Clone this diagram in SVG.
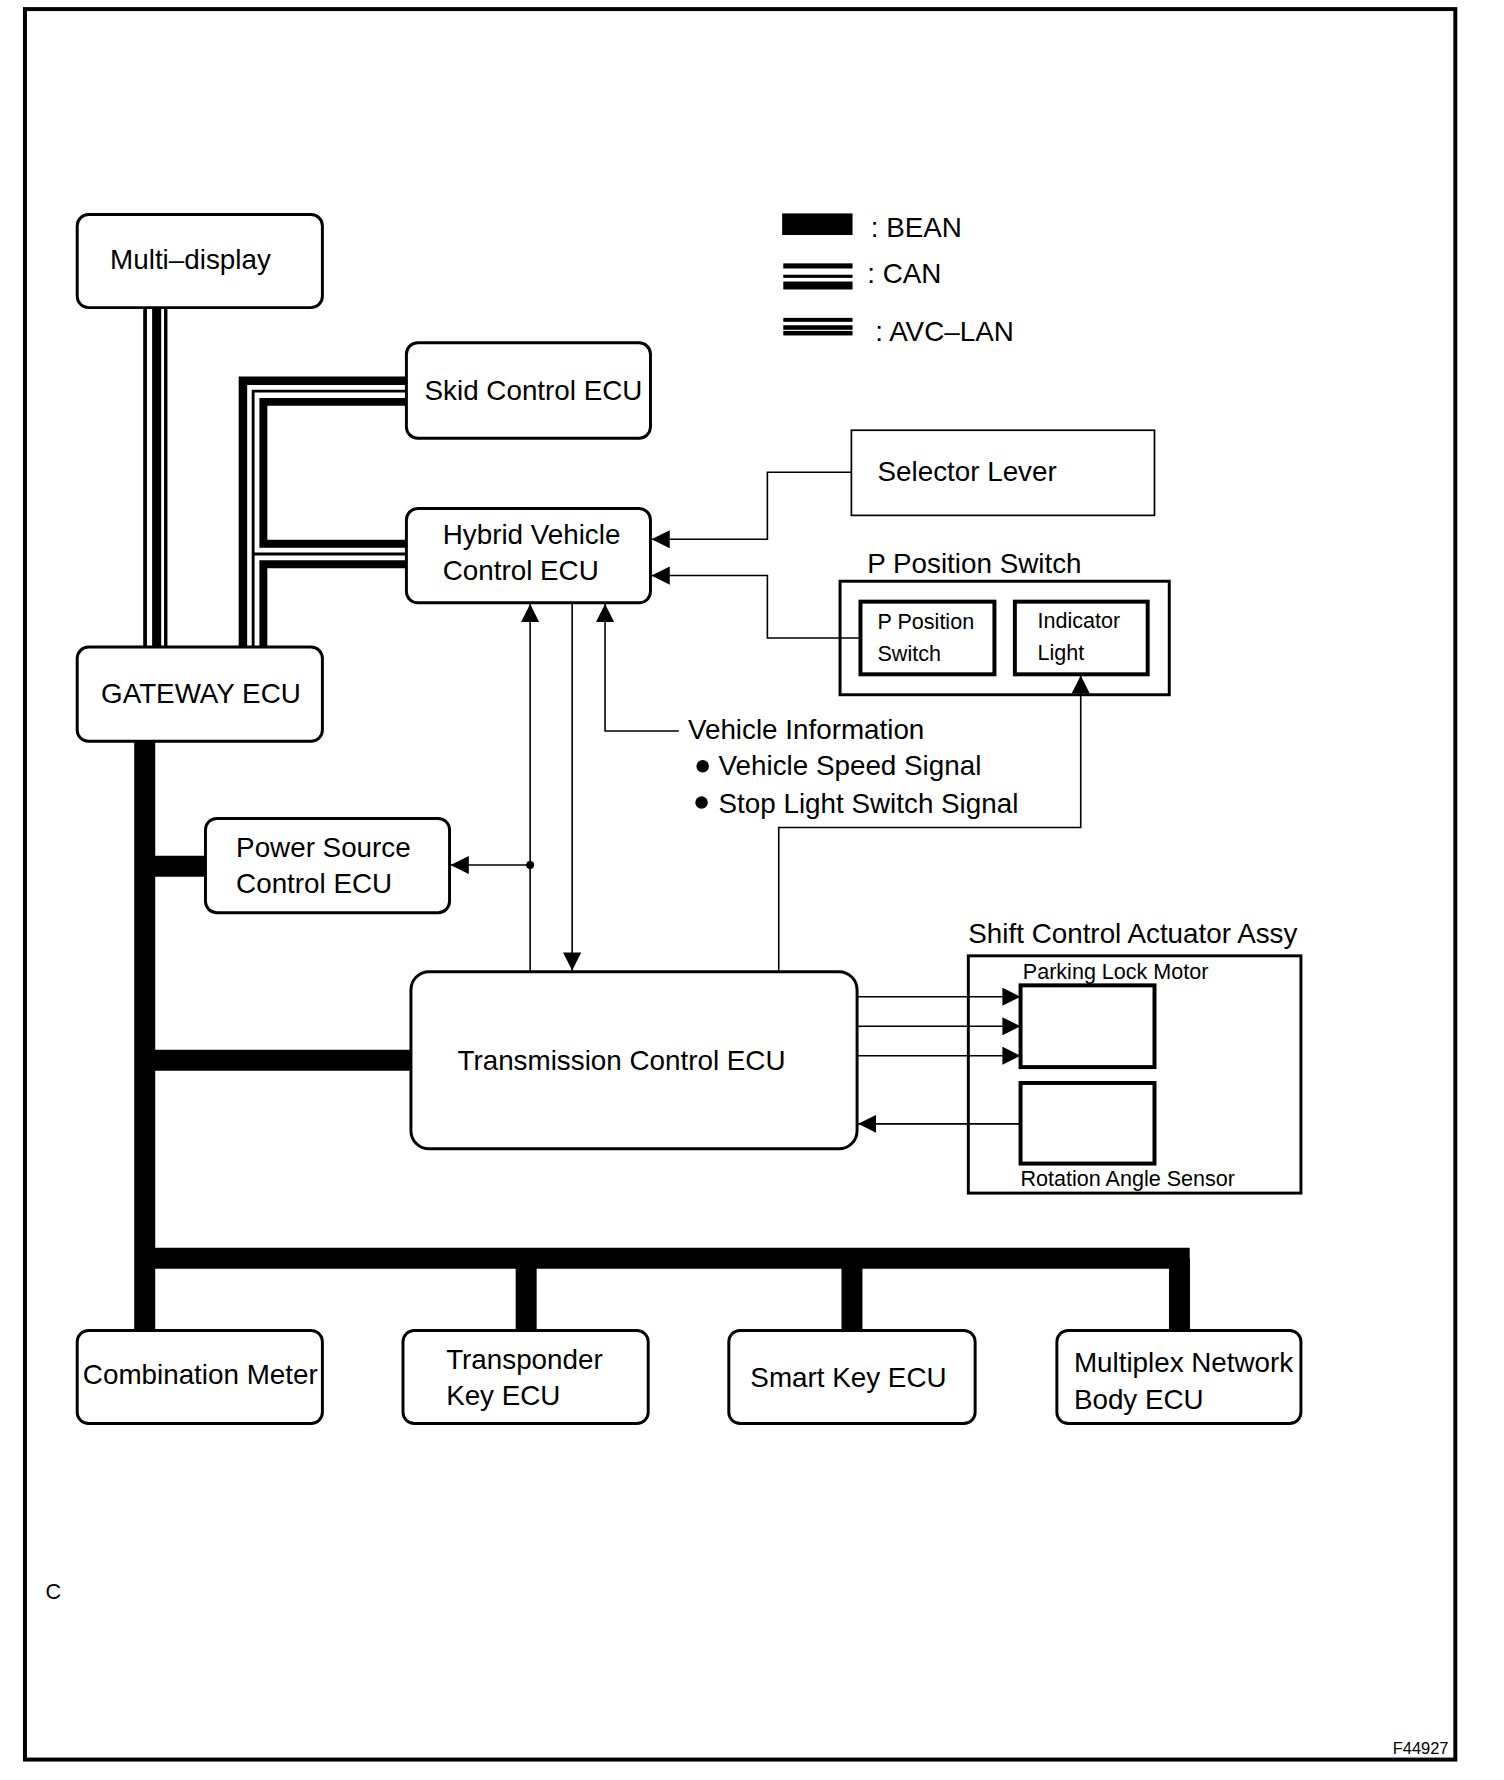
<svg xmlns="http://www.w3.org/2000/svg" width="1504" height="1780" viewBox="0 0 1504 1780">
<defs>
<style>
text{font-family:"Liberation Sans",Arial,sans-serif;fill:#000}
.t{font-size:24.5px}
.s{font-size:19px}
.rb{fill:#fff;stroke:#000;stroke-width:2.6}
.bx{fill:none;stroke:#000;stroke-width:2.6}
.ib{fill:#fff;stroke:#000;stroke-width:3.5}
.bean{fill:none;stroke:#000;stroke-width:18.5;stroke-linejoin:miter;stroke-linecap:butt}
.sig{fill:none;stroke:#000;stroke-width:1.4}
</style>
<marker id="ah" viewBox="0 0 16 16" refX="16" refY="8" markerWidth="16" markerHeight="16" markerUnits="userSpaceOnUse" orient="auto">
<path d="M0,0 L16,8 L0,16 Z" fill="#000"/>
</marker>
</defs>
<rect x="0" y="0" width="1504" height="1780" fill="#fff"/>
<g transform="scale(1.1352)">
<rect x="22" y="8" width="1260" height="1542" fill="none" stroke="#000" stroke-width="3.5"/>

<g id="legend">
<rect x="689" y="188" width="62" height="19" fill="#000"/>
<text class="t" x="767" y="209">: BEAN</text>
<rect x="690" y="232" width="61" height="4.5" fill="#000"/>
<rect x="690" y="242" width="61" height="2.8" fill="#000"/>
<rect x="690" y="248" width="61" height="7" fill="#000"/>
<text class="t" x="764" y="249">: CAN</text>
<rect x="690" y="280" width="61" height="3.5" fill="#000"/>
<rect x="690" y="286.5" width="61" height="4" fill="#000"/>
<rect x="690" y="291.5" width="61" height="4" fill="#000"/>
<text class="t" x="771" y="300">: AVC–LAN</text>
</g>

<g id="connectors">
<line x1="127.8" y1="271" x2="127.8" y2="570" stroke="#000" stroke-width="3.3"/>
<line x1="138" y1="271" x2="138" y2="570" stroke="#000" stroke-width="8"/>
<line x1="146" y1="271" x2="146" y2="570" stroke="#000" stroke-width="3"/>
<path d="M214,570 V335.5 H358" fill="none" stroke="#000" stroke-width="7.5"/>
<path d="M223,570 V344.5 H358 M223,488 H358" fill="none" stroke="#000" stroke-width="2.5"/>
<path d="M358,354 H232 V479 H358" fill="none" stroke="#000" stroke-width="7"/>
<path d="M358,497 H232 V570" fill="none" stroke="#000" stroke-width="7"/>
<path class="bean" d="M127.5,653 V1172"/>
<path class="bean" d="M127.5,763 H181"/>
<path class="bean" d="M127.5,934 H362"/>
<path class="bean" d="M127.5,1108.5 H1048"/>
<path class="bean" d="M463.5,1108.5 V1172"/>
<path class="bean" d="M750.5,1108.5 V1172"/>
<path class="bean" d="M1039,1108.5 V1172"/>
<path class="sig" d="M750,416 H676 V475 H574" marker-end="url(#ah)"/>
<path class="sig" d="M758,562 H676 V507 H574" marker-end="url(#ah)"/>
<path class="sig" d="M467,856 V532" marker-end="url(#ah)"/>
<path class="sig" d="M504,531 V855" stroke-width="1.8" marker-end="url(#ah)"/>
<path class="sig" d="M467,762 H397" marker-end="url(#ah)"/>
<circle cx="467" cy="762" r="3.5" fill="#000"/>
<path class="sig" d="M598,644 H533 V532" marker-end="url(#ah)"/>
<path class="sig" d="M686,856 V729 H952 V595" marker-end="url(#ah)"/>
<path class="sig" d="M755,878 H899" marker-end="url(#ah)"/>
<path class="sig" d="M755,904 H899" marker-end="url(#ah)"/>
<path class="sig" d="M755,930 H899" stroke-width="1.8" marker-end="url(#ah)"/>
<path class="sig" d="M899,990 H756" stroke-width="1.8" marker-end="url(#ah)"/>
</g>

<g id="multi-display">
<rect class="rb" x="68" y="189" width="216" height="82" rx="10"/>
<text class="t" x="97" y="237">Multi–display</text>
</g>
<g id="skid-control-ecu">
<rect class="rb" x="358" y="302" width="215" height="84" rx="10"/>
<text class="t" x="374" y="352">Skid Control ECU</text>
</g>
<g id="hybrid-vehicle-control-ecu">
<rect class="rb" x="358" y="448" width="215" height="83" rx="10"/>
<text class="t" x="390" y="479">Hybrid Vehicle</text>
<text class="t" x="390" y="511">Control ECU</text>
</g>
<g id="gateway-ecu">
<rect class="rb" x="68" y="570" width="216" height="83" rx="10"/>
<text class="t" x="89" y="619">GATEWAY ECU</text>
</g>
<g id="selector-lever">
<rect x="750" y="379" width="267" height="75" fill="#fff" stroke="#000" stroke-width="1.5"/>
<text class="t" x="773" y="424">Selector Lever</text>
</g>
<g id="p-position-switch-assy">
<text class="t" x="764" y="505">P Position Switch</text>
<rect class="bx" x="740" y="512" width="290" height="100"/>
<g id="p-position-switch">
<rect class="ib" x="758" y="530" width="118" height="64"/>
<text class="s" x="773" y="554">P Position</text>
<text class="s" x="773" y="582">Switch</text>
</g>
<g id="indicator-light">
<rect class="ib" x="894" y="530" width="117" height="64"/>
<text class="s" x="914" y="553">Indicator</text>
<text class="s" x="914" y="581">Light</text>
</g>
</g>
<g id="vehicle-information">
<text class="t" x="606" y="651">Vehicle Information</text>
<circle cx="619" cy="675" r="5.5" fill="#000"/>
<text class="t" x="633" y="683">Vehicle Speed Signal</text>
<circle cx="618" cy="707" r="5.5" fill="#000"/>
<text class="t" x="633" y="716">Stop Light Switch Signal</text>
</g>
<g id="power-source-control-ecu">
<rect class="rb" x="181" y="721" width="215" height="83" rx="10"/>
<text class="t" x="208" y="755">Power Source</text>
<text class="t" x="208" y="787">Control ECU</text>
</g>
<g id="transmission-control-ecu">
<rect class="rb" x="362" y="856" width="393" height="156" rx="16"/>
<text class="t" x="403" y="943">Transmission Control ECU</text>
</g>
<g id="shift-control-actuator-assy">
<text class="t" x="853" y="831">Shift Control Actuator Assy</text>
<rect class="bx" x="853" y="842" width="293" height="209"/>
<g id="parking-lock-motor">
<rect class="ib" x="899" y="868" width="118" height="72"/>
<text class="s" x="901" y="862">Parking Lock Motor</text>
</g>
<g id="rotation-angle-sensor">
<rect class="ib" x="899" y="954" width="118" height="71"/>
<text class="s" x="899" y="1045">Rotation Angle Sensor</text>
</g>
</g>
<g id="combination-meter">
<rect class="rb" x="68" y="1172" width="216" height="82" rx="10"/>
<text class="t" x="73" y="1219">Combination Meter</text>
</g>
<g id="transponder-key-ecu">
<rect class="rb" x="355" y="1172" width="216" height="82" rx="10"/>
<text class="t" x="393" y="1206">Transponder</text>
<text class="t" x="393" y="1238">Key ECU</text>
</g>
<g id="smart-key-ecu">
<rect class="rb" x="642" y="1172" width="217" height="82" rx="10"/>
<text class="t" x="661" y="1222">Smart Key ECU</text>
</g>
<g id="multiplex-network-body-ecu">
<rect class="rb" x="931" y="1172" width="215" height="82" rx="10"/>
<text class="t" x="946" y="1209">Multiplex Network</text>
<text class="t" x="946" y="1241">Body ECU</text>
</g>
<text x="40" y="1409" style="font-size:19px">C</text>
<text x="1276" y="1545" text-anchor="end" style="font-size:14.5px">F44927</text>
</g>
</svg>
